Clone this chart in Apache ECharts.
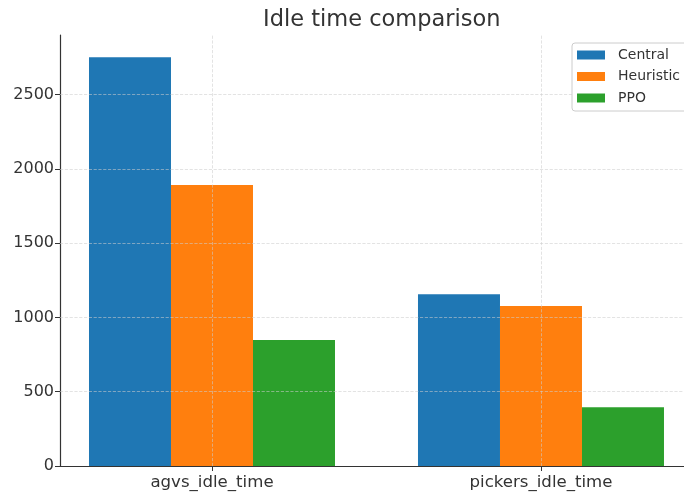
<!DOCTYPE html>
<html>
<head>
<meta charset="utf-8">
<script src="https://cdn.jsdelivr.net/npm/echarts@6/dist/echarts.min.js"></script>
<style>
  html, body { margin: 0; padding: 0; background: #fff; }
  #chart { width: 684px; height: 493px; }
</style>
</head>
<body>
<div id="chart"></div>
<script>
var categories = ['agvs_idle_time', 'pickers_idle_time']
var seriesNames = ['Central', 'Heuristic', 'PPO']
var central = [2750, 1156]
var heuristic = [1890, 1076]
var ppo = [848, 396]
var yTicks = [0, 500, 1000, 1500, 2000, 2500]

var colors = ['#1f77b4', '#ff7f0e', '#2ca02c']
var font = 'DejaVu Sans'

function toPoints(vals) {
  return vals.map(function (v, i) { return [i, v] })
}

var chart = echarts.init(document.getElementById('chart'))
chart.setOption({
  animation: false,
  color: colors,
  title: {
    text: 'Idle time comparison',
    left: 258,
    top: 4,
    textStyle: { fontFamily: font, fontSize: 22.5, fontWeight: 'normal', color: '#333' }
  },
  legend: {
    z: 20,
    orient: 'vertical',
    left: 572,
    top: 43,
    itemWidth: 28,
    itemHeight: 9,
    itemGap: 7.5,
    padding: [5, 20, 6, 5],
    borderColor: '#ccc',
    borderWidth: 1,
    borderRadius: 3,
    backgroundColor: '#fff',
    icon: 'rect',
    textStyle: { fontFamily: font, fontSize: 14, color: '#333', padding: [0, 0, 0, 8] },
    data: seriesNames
  },
  grid: { left: 60, right: 0, top: 35, bottom: 27 },
  xAxis: {
    type: 'value',
    min: -0.462,
    max: 1.4347,
    axisLine: { show: true, onZero: false, lineStyle: { color: '#333', width: 1.2 } },
    axisTick: { show: true, length: 5, customValues: [0, 1], lineStyle: { color: '#333' } },
    axisLabel: {
      customValues: [0, 1],
      fontFamily: font, fontSize: 16.6, color: '#333', margin: 8,
      formatter: function (v) { return categories[Math.round(v)] }
    },
    splitLine: { show: false }
  },
  yAxis: {
    type: 'value',
    min: 0,
    max: 2900,
    axisLine: { show: true, onZero: false, lineStyle: { color: '#333', width: 1.2 } },
    axisTick: { show: true, length: 5, customValues: yTicks, lineStyle: { color: '#333' } },
    axisLabel: {
      customValues: yTicks,
      fontFamily: font, fontSize: 16, color: '#333', margin: 6,
      formatter: function (v) { return String(v) }
    },
    splitLine: { show: false }
  },
  series: [
    { name: seriesNames[0], type: 'bar', data: toPoints(central), barWidth: 82, barGap: '0%' },
    { name: seriesNames[1], type: 'bar', data: toPoints(heuristic), barWidth: 82, barGap: '0%' },
    { name: seriesNames[2], type: 'bar', data: toPoints(ppo), barWidth: 82, barGap: '0%' },
    {
      type: 'line', silent: true, data: [], z: 5,
      markLine: {
        symbol: 'none', silent: true, label: { show: false },
        lineStyle: { color: '#ccc', type: 'dashed', width: 0.8, opacity: 0.7 },
        data: yTicks.slice(1).map(function (t) { return { yAxis: t } })
          .concat([0, 1].map(function (i) { return { xAxis: i } }))
      }
    }
  ]
})
</script>
</body>
</html>
